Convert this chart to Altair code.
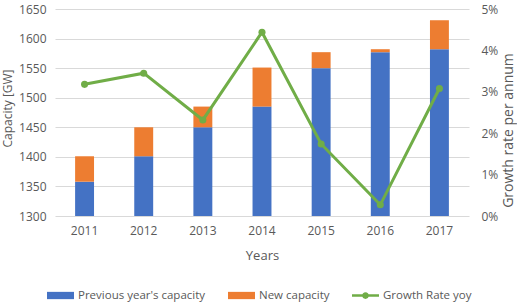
import altair as alt
import pandas as pd

# Installed capacity per year (GW) and year-on-year growth
years = ["2011", "2012", "2013", "2014", "2015", "2016", "2017"]
previous_capacity = [1358, 1401, 1450, 1485, 1550, 1577, 1582]
new_capacity = [43, 49, 35, 66, 27, 5, 49]
growth_rate = [0.0318, 0.0345, 0.0232, 0.0444, 0.0174, 0.0027, 0.0308]

series_names = ["Previous year's capacity", "New capacity", "Growth Rate yoy"]
series_colors = ["#4472C4", "#ED7D31", "#70AD47"]

bar_df = pd.DataFrame({
    "year": years * 2,
    "series": [series_names[0]] * len(years) + [series_names[1]] * len(years),
    "value": previous_capacity + new_capacity,
    "stack_order": [0] * len(years) + [1] * len(years),
})
line_df = pd.DataFrame({"year": years, "growth": growth_rate})

text_color = "#595959"
grid_color = "#d9d9d9"
font = "Open Sans"

# legend swatches: wide rectangle for bars, line with a dot for the growth series
bar_swatch = "M-1,-0.27H1V0.27H-1Z"
line_swatch = ("M-1,-0.1H1V0.1H-1Z "
               "M0.25,0A0.25,0.25,0,1,1,-0.25,0A0.25,0.25,0,1,1,0.25,0Z")
swatch_expr = ("datum.value === 'Growth Rate yoy' ? '" + line_swatch
               + "' : '" + bar_swatch + "'")

x_enc = alt.X(
    "year:O",
    title="Years",
    scale=alt.Scale(paddingInner=0.68, paddingOuter=0.34),
    axis=alt.Axis(labelAngle=0, ticks=False, domain=False,
                  labelPadding=9, titlePadding=13),
)

bars = alt.Chart(bar_df).mark_bar(clip=True).encode(
    x=x_enc,
    y=alt.Y(
        "value:Q",
        stack="zero",
        title="Capacity [GW]",
        scale=alt.Scale(domain=[1300, 1650], nice=False, zero=False),
        axis=alt.Axis(values=list(range(1300, 1651, 50)), format="d",
                      grid=True, gridColor=grid_color, domain=False,
                      ticks=False, labelPadding=9,
                      titleFontSize=12, titleAngle=270,
                      titleAlign="center", titleBaseline="middle",
                      titleX=-48, titleY=99),
    ),
    color=alt.Color(
        "series:N",
        scale=alt.Scale(domain=series_names, range=series_colors),
        legend=alt.Legend(
            title=None,
            orient="none",
            direction="horizontal",
            legendX=-8,
            legendY=273,
            symbolSize=729,
            symbolStrokeWidth=0,
            symbolOpacity=1,
            symbolType={"expr": swatch_expr},
            labelOffset=4,
            columnPadding=22,
            labelFontSize=11.5,
            labelColor=text_color,
            labelFont=font,
        ),
    ),
    order=alt.Order("stack_order:Q"),
)

line = alt.Chart(line_df).mark_line(
    color=series_colors[2], strokeWidth=3,
    point=alt.OverlayMarkDef(color=series_colors[2], size=50, filled=True, opacity=1),
).encode(
    x=alt.X("year:O"),
    y=alt.Y(
        "growth:Q",
        title="Growth rate per annum",
        scale=alt.Scale(domain=[0, 0.05], nice=False),
        axis=alt.Axis(orient="right", format=".0%",
                      values=[0, 0.01, 0.02, 0.03, 0.04, 0.05],
                      grid=False, domain=False, ticks=False,
                      labelPadding=12,
                      titleFontSize=14, titleAngle=270,
                      titleAlign="center", titleBaseline="middle",
                      titleX=39, titleY=121),
    ),
)

chart = (
    alt.layer(bars, line)
    .resolve_scale(y="independent")
    .properties(
        width=414,
        height=207,
        autosize=alt.AutoSizeParams(type="none"),
        padding={"left": 55, "top": 9, "right": 48, "bottom": 90},
    )
    .configure_view(stroke=None)
    .configure_axis(
        labelFont=font, titleFont=font,
        labelFontSize=12, titleFontSize=13,
        labelColor=text_color, titleColor=text_color,
        titleFontWeight="normal",
    )
    .configure_legend(labelFont=font)
)

chart.save("out.html", embed_options={"renderer": "svg", "actions": False})
